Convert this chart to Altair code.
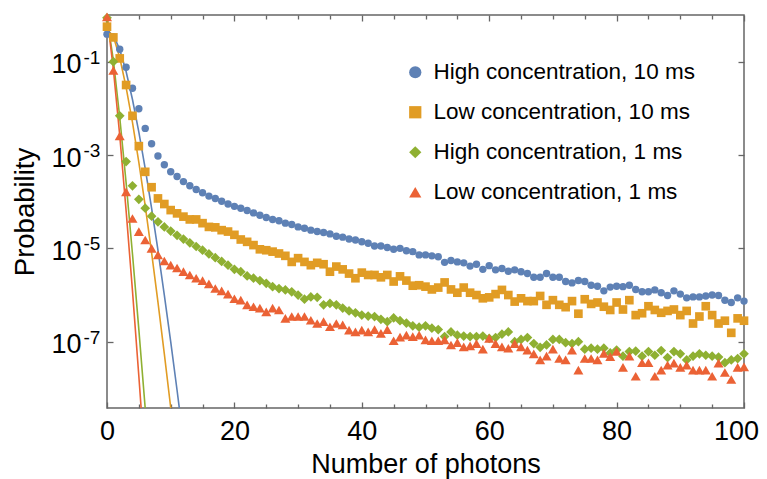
import altair as alt
import pandas as pd

FONT = "Liberation Sans"
FRAME = "#666666"

# ---------------- data ----------------
x_values = list(range(101))

series_names = [
    "High concentration, 10 ms",
    "Low concentration, 10 ms",
    "High concentration, 1 ms",
    "Low concentration, 1 ms",
]
series_colors = ["#5E81B5", "#E19C24", "#8FB032", "#EB6235"]
series_shapes = ["circle", "square", "diamond", "triangle-up"]
series_marker_sizes = [55, 75, 95, 100]

# measured probabilities, stored as log10(probability), x = 0..100
high_10ms_log10 = [
    -0.41, -0.47, -0.735, -1.12, -1.57, -2.01, -2.43, -2.76, -3.02, -3.21,
    -3.36, -3.46, -3.57, -3.66, -3.74, -3.81, -3.88, -3.93, -3.99, -4.05,
    -4.10, -4.14, -4.19, -4.24, -4.29, -4.34, -4.38, -4.41, -4.46, -4.49,
    -4.54, -4.57, -4.61, -4.64, -4.66, -4.69, -4.74, -4.76, -4.80, -4.82,
    -4.86, -4.89, -4.95, -4.95, -4.98, -5.02, -5.00, -5.05, -5.07, -5.14,
    -5.14, -5.16, -5.18, -5.30, -5.26, -5.29, -5.31, -5.38, -5.34, -5.45,
    -5.37, -5.46, -5.43, -5.49, -5.46, -5.50, -5.54, -5.62, -5.62, -5.54,
    -5.62, -5.62, -5.71, -5.74, -5.69, -5.71, -5.79, -5.81, -5.91, -5.83,
    -5.81, -5.82, -5.79, -5.88, -5.93, -5.93, -5.89, -5.95, -6.01, -5.91,
    -5.98, -6.06, -6.04, -6.04, -6.02, -6.00, -6.01, -6.11, -6.16, -6.06,
    -6.13,
]
low_10ms_log10 = [
    -0.25, -0.48, -0.93, -1.50, -2.16, -2.81, -3.36, -3.69, -3.93, -4.05,
    -4.18, -4.25, -4.32, -4.38, -4.38, -4.46, -4.54, -4.55, -4.61, -4.64,
    -4.71, -4.81, -4.86, -4.93, -5.02, -5.04, -5.07, -5.11, -5.16, -5.29,
    -5.21, -5.29, -5.36, -5.31, -5.34, -5.50, -5.39, -5.45, -5.54, -5.64,
    -5.52, -5.57, -5.57, -5.62, -5.57, -5.71, -5.60, -5.69, -5.80, -5.79,
    -5.82, -5.88, -5.84, -5.73, -5.88, -5.95, -5.84, -5.95, -6.00, -6.07,
    -6.05, -5.98, -5.89, -6.00, -6.14, -6.07, -6.13, -6.13, -6.02, -6.21,
    -6.11, -6.21, -6.26, -6.13, -6.40, -6.09, -6.19, -6.16, -6.25, -6.32,
    -6.16, -6.31, -6.11, -6.43, -6.39, -6.24, -6.32, -6.38, -6.34, -6.31,
    -6.43, -6.34, -6.61, -6.46, -6.24, -6.43, -6.61, -6.55, -6.81, -6.50,
    -6.55,
]
high_1ms_log10 = [
    -0.06, -1.00, -2.16, -3.14, -3.66, -3.95, -4.14, -4.31, -4.43, -4.54,
    -4.63, -4.72, -4.80, -4.88, -4.96, -5.04, -5.12, -5.20, -5.28, -5.36,
    -5.45, -5.50, -5.59, -5.64, -5.69, -5.75, -5.82, -5.86, -5.89, -5.93,
    -6.00, -6.09, -6.04, -6.05, -6.21, -6.18, -6.21, -6.28, -6.34, -6.38,
    -6.43, -6.45, -6.46, -6.52, -6.57, -6.49, -6.55, -6.60, -6.66, -6.69,
    -6.66, -6.71, -6.74, -6.89, -6.79, -6.86, -6.88, -6.89, -6.89, -6.88,
    -6.93, -6.91, -6.84, -6.79, -7.00, -6.95, -6.91, -7.04, -7.12, -7.07,
    -6.95, -6.95, -7.02, -7.04, -7.00, -7.16, -7.14, -7.16, -7.14, -7.24,
    -7.18, -7.31, -7.21, -7.20, -7.31, -7.21, -7.29, -7.19, -7.34, -7.21,
    -7.26, -7.39, -7.31, -7.26, -7.29, -7.31, -7.33, -7.45, -7.39, -7.36,
    -7.26,
]
low_1ms_log10 = [
    -0.04, -1.19, -2.59, -3.79, -4.36, -4.64, -4.82, -5.00, -5.14, -5.27,
    -5.36, -5.42, -5.50, -5.57, -5.64, -5.69, -5.76, -5.86, -5.91, -5.98,
    -6.08, -6.11, -6.21, -6.25, -6.28, -6.36, -6.28, -6.32, -6.50, -6.46,
    -6.46, -6.46, -6.54, -6.61, -6.57, -6.68, -6.61, -6.64, -6.75, -6.79,
    -6.75, -6.79, -6.74, -6.82, -6.74, -6.98, -6.90, -6.86, -6.89, -6.86,
    -6.96, -6.98, -6.98, -6.96, -7.07, -7.02, -7.11, -7.09, -7.04, -7.16,
    -6.93, -7.04, -7.11, -7.14, -7.04, -7.11, -7.18, -7.26, -7.39, -7.31,
    -7.16, -7.36, -7.39, -7.18, -7.61, -7.36, -7.36, -7.39, -7.25, -7.32,
    -7.21, -7.55, -7.31, -7.74, -7.45, -7.45, -7.74, -7.61, -7.50, -7.46,
    -7.55, -7.50, -7.61, -7.61, -7.61, -7.74, -7.46, -7.66, -7.81, -7.55,
    -7.54,
]

# fitted curves (log10 probability) at x = 0, 1, 2, ...
fit_high_10ms_log10 = [-0.43, -0.43, -0.74, -1.21, -1.81, -2.51, -3.29, -4.14, -5.04, -6.00, -7.00, -8.04, -9.12]
fit_low_10ms_log10 = [-0.30, -0.46, -0.91, -1.55, -2.30, -3.16, -4.09, -5.09, -6.15, -7.26, -8.41, -9.61]
fit_high_1ms_log10 = [-0.05, -0.97, -2.19, -3.59, -5.12, -6.74, -8.43, -10.20]
fit_low_1ms_log10 = [-0.03, -1.16, -2.58, -4.19, -5.91, -7.74, -9.64]

x_major_ticks = [0, 20, 40, 60, 80, 100]
x_minor_ticks = [5, 10, 15, 25, 30, 35, 45, 50, 55, 65, 70, 75, 85, 90, 95]
y_ticks = [1e-1, 1e-3, 1e-5, 1e-7]
y_domain = [3.8e-9, 1.0]
x_domain = [0, 100]

# ---------------- tables ----------------
point_rows = []
for name, vals in zip(series_names, [high_10ms_log10, low_10ms_log10, high_1ms_log10, low_1ms_log10]):
    for xv, lv in zip(x_values, vals):
        point_rows.append({"x": xv, "p": 10 ** lv, "series": name})
points_df = pd.DataFrame(point_rows)

fit_rows = []
for name, vals in zip(series_names, [fit_high_10ms_log10, fit_low_10ms_log10, fit_high_1ms_log10, fit_low_1ms_log10]):
    for xv, lv in enumerate(vals):
        fit_rows.append({"x": xv, "p": 10 ** lv, "series": name})
fit_df = pd.DataFrame(fit_rows)

x_scale = alt.Scale(domain=x_domain, nice=False, zero=False)
y_scale = alt.Scale(type="log", domain=y_domain, nice=False)
color_scale = alt.Scale(domain=series_names, range=series_colors)
shape_scale = alt.Scale(domain=series_names, range=series_shapes)

common = dict(domain=False, grid=False, tickColor=FRAME, tickWidth=1.3,
              labelFont=FONT, titleFont=FONT, labelColor="black", titleColor="black")

main_x_axis = alt.Axis(orient="bottom", values=x_major_ticks, offset=-6, tickSize=6,
                       labelFontSize=27, labelPadding=10, labelFlush=False, format="d",
                       labelOffset={"condition": {"test": "datum.value >= 100", "value": -8}, "value": 0},
                       title="Number of photons", titleFontSize=27, titleFontWeight="normal",
                       titlePadding=7, **common)
main_y_axis = alt.Axis(orient="left", values=y_ticks, offset=-6, tickSize=6,
                       labelExpr="'10'", labelFontSize=27, labelPadding=26,
                       labelBaseline="alphabetic", labelOffset=11, labelOverlap=False,
                       title="Probability", titleFontSize=27.5, titleFontWeight="normal",
                       titlePadding=11, **common)


def line_layer(i, x_axis, y_axis):
    return (
        alt.Chart(fit_df)
        .transform_filter(alt.datum.series == series_names[i])
        .mark_line(strokeWidth=1.6, clip=True, color=series_colors[i])
        .encode(
            x=alt.X("x:Q", scale=x_scale, axis=x_axis),
            y=alt.Y("p:Q", scale=y_scale, axis=y_axis),
            order=alt.Order("x:Q"),
        )
    )


line_layers = [line_layer(0, main_x_axis, main_y_axis)] + [
    line_layer(i, None, None) for i in range(1, 4)
]

legend = alt.Legend(title=None, orient="none", legendX=297, legendY=46, padding=0,
                    labelFont=FONT, labelFontSize=22.5, labelColor="black", labelLimit=500,
                    symbolSize=150, rowPadding=17, labelOffset=7, symbolOpacity=1)


def point_layer(i, x_axis, y_axis):
    return (
        alt.Chart(points_df)
        .transform_filter(alt.datum.series == series_names[i])
        .mark_point(filled=True, opacity=1, size=series_marker_sizes[i])
        .encode(
            x=alt.X("x:Q", scale=x_scale, axis=x_axis),
            y=alt.Y("p:Q", scale=y_scale, axis=y_axis),
            color=alt.Color("series:N", scale=color_scale, legend=legend, sort=series_names),
            shape=alt.Shape("series:N", scale=shape_scale, legend=legend, sort=series_names),
        )
    )


minor_x_axis = alt.Axis(orient="bottom", values=x_minor_ticks, offset=-4, tickSize=4,
                        labels=False, title=None, **common)
exponent_y_axis = alt.Axis(orient="left", values=y_ticks, ticks=False,
                           labelExpr="'-' + round(-log(datum.value) / LN10)",
                           labelFontSize=19, labelAlign="left", labelPadding=24,
                           labelBaseline="alphabetic", labelOffset=1.5, labelOverlap=False,
                           title=None, **common)

point_layers = [point_layer(0, minor_x_axis, exponent_y_axis)] + [
    point_layer(i, None, None) for i in range(1, 4)
]

top_major = alt.Chart(fit_df).mark_line(opacity=0, clip=True).encode(
    x=alt.X("x:Q", scale=x_scale,
            axis=alt.Axis(orient="top", values=x_major_ticks, offset=-6, tickSize=6,
                          labels=False, title=None, **common)),
    y=alt.Y("p:Q", scale=y_scale,
            axis=alt.Axis(orient="right", values=y_ticks, offset=-6, tickSize=6,
                          labels=False, title=None, **common)),
    detail="series:N",
)

top_minor = alt.Chart(fit_df).mark_line(opacity=0, clip=True).encode(
    x=alt.X("x:Q", scale=x_scale,
            axis=alt.Axis(orient="top", values=x_minor_ticks, offset=-4, tickSize=4,
                          labels=False, title=None, **common)),
    y=alt.Y("p:Q", scale=y_scale, axis=None),
    detail="series:N",
)

chart = (
    alt.layer(*line_layers, top_major, top_minor, *point_layers)
    .resolve_axis(x="independent", y="independent")
    .properties(width=637, height=393,
                autosize=alt.AutoSizeParams(type="none"),
                padding={"left": 99, "top": 7, "right": 15, "bottom": 71},
                background="white")
    .configure_view(stroke=FRAME, strokeWidth=1.5)
)

chart.save("out.html", embed_options={"renderer": "svg", "actions": False})
